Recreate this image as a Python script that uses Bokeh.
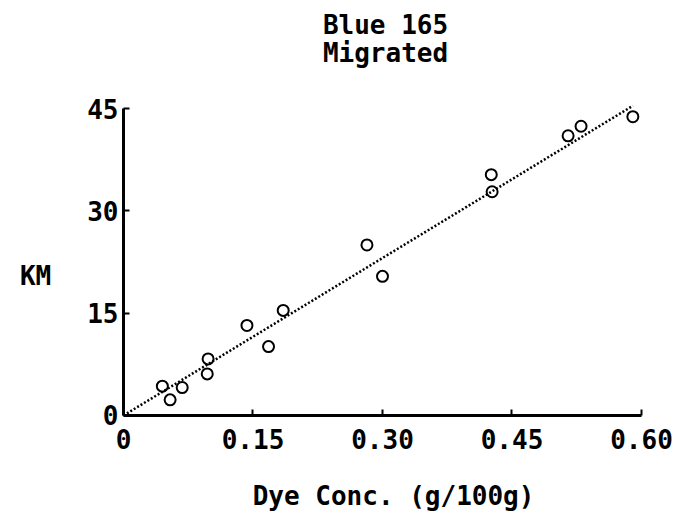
from bokeh.plotting import figure
from bokeh.models import Range1d, FixedTicker, Label
from bokeh.embed import file_html
from bokeh.resources import INLINE

# Data
dye_conc = [0.045, 0.054, 0.068, 0.098, 0.097, 0.143, 0.168, 0.185, 0.282, 0.300, 0.426, 0.427, 0.515, 0.530, 0.590]
km = [4.3, 2.3, 4.1, 8.3, 6.1, 13.2, 10.1, 15.4, 25.0, 20.4, 35.3, 32.8, 41.0, 42.4, 43.8]
fit_x = [0.0, 0.590]
fit_y = [0.0, 45.4]
x_ticks = [0, 0.15, 0.30, 0.45, 0.60]
x_tick_labels = ["0", "0.15", "0.30", "0.45", "0.60"]
y_ticks = [0, 15, 30, 45]
y_tick_labels = ["0", "15", "30", "45"]
title_lines = ["Blue 165", "Migrated"]
x_title = "Dye Conc. (g/100g)"
y_title = "KM"
FONT = "DejaVu Sans Mono"
FS = "26px"

# The frame covers the whole canvas; axes are pinned at the data origin
p = figure(width=695, height=514, output_backend="svg", toolbar_location=None,
           x_range=Range1d(-0.14248, 0.66257), y_range=Range1d(-14.512, 60.833),
           min_border=0, min_border_left=0, min_border_right=0,
           min_border_top=0, min_border_bottom=0)
p.title = None
p.outline_line_color = None
p.grid.visible = False
p.background_fill_color = "white"
p.border_fill_color = "white"

p.line(fit_x, fit_y, line_color="black", line_width=2.5, line_dash="2 2")
p.scatter(dye_conc, km, size=11, fill_color=None, line_color="black", line_width=2)

for ax, ticks, labels in ((p.xaxis[0], x_ticks, x_tick_labels), (p.yaxis[0], y_ticks, y_tick_labels)):
    ax.ticker = FixedTicker(ticks=ticks)
    ax.major_label_overrides = {t: l for t, l in zip(ticks, labels)}
    ax.fixed_location = 0
    ax.axis_line_width = 3
    ax.axis_line_color = "black"
    ax.major_tick_in = 6
    ax.major_tick_out = 0
    ax.major_tick_line_width = 2
    ax.minor_tick_line_color = None
    ax.major_label_text_font = FONT
    ax.major_label_text_font_style = "bold"
    ax.major_label_text_font_size = FS
    ax.major_label_text_color = "black"

p.xaxis[0].bounds = (0, 0.60)
p.yaxis[0].bounds = (0, 45)
p.xaxis[0].major_label_standoff = 14
p.yaxis[0].major_label_standoff = 5


def add_text(x, y, text):
    p.add_layout(Label(x=x, y=y, text=text, text_font=FONT, text_font_style="bold",
                       text_font_size=FS, text_color="black",
                       text_align="center", text_baseline="middle"))


add_text(0.3035, 57.31, title_lines[0])
add_text(0.3035, 53.21, title_lines[1])
add_text(-0.1019, 20.52, y_title)
add_text(0.3128, -11.87, x_title)

open("out.html", "w").write(file_html(p, INLINE))
